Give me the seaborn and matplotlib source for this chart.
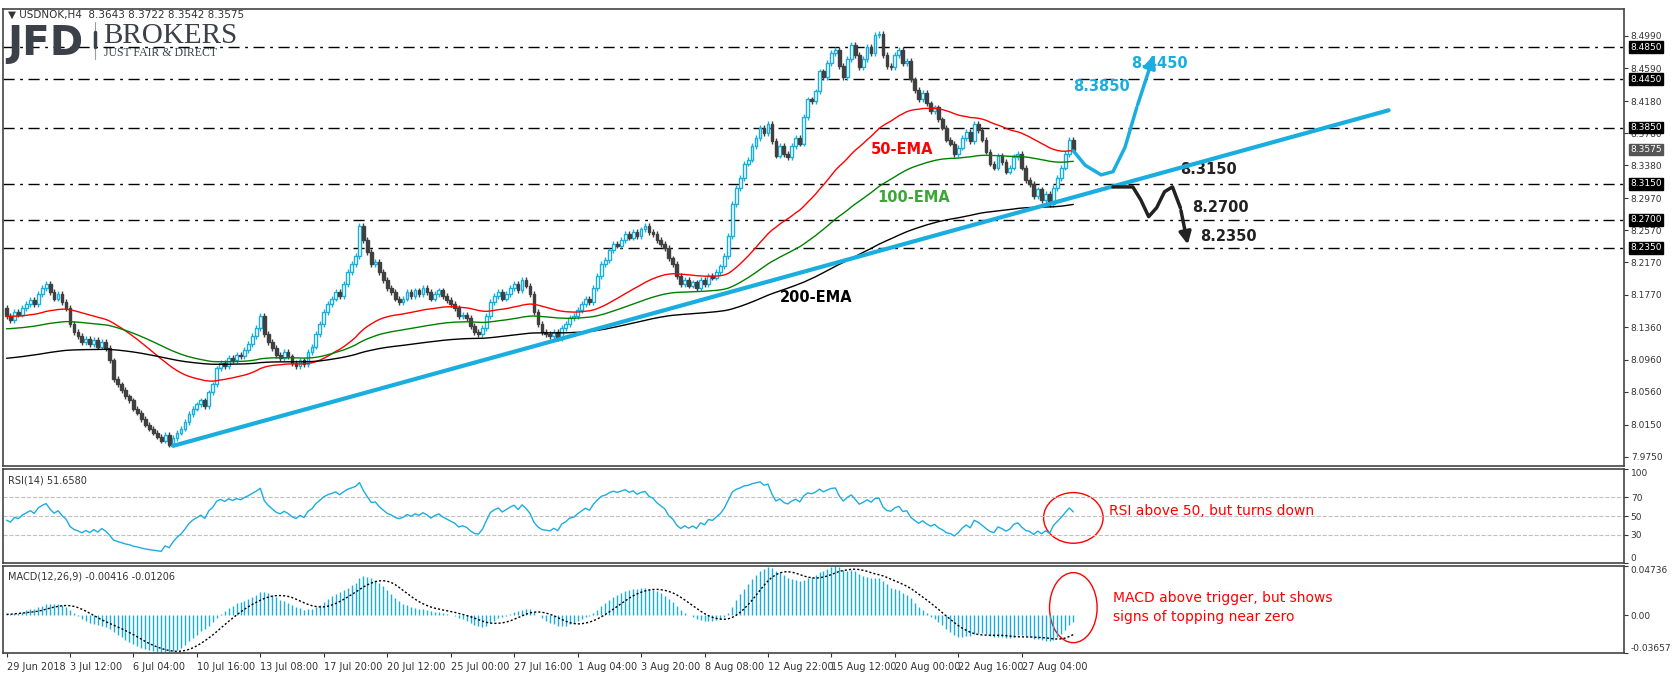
import numpy as np
import pandas as pd
import matplotlib
matplotlib.use("Agg")
import matplotlib.pyplot as plt
import seaborn as sns
from matplotlib.patches import Ellipse

# closes, one row per date label (16 H4 bars)
closes = [
    8.150, 8.145, 8.155, 8.152, 8.160, 8.165, 8.170, 8.165, 8.178, 8.185, 8.190, 8.180, 8.172, 8.178, 8.168, 8.160,
    8.140, 8.130, 8.125, 8.118, 8.122, 8.115, 8.120, 8.112, 8.118, 8.110, 8.095, 8.072, 8.065, 8.058, 8.050, 8.045,
    8.035, 8.030, 8.022, 8.015, 8.010, 8.005, 8.000, 7.995, 8.002, 7.990, 7.998, 8.005, 8.010, 8.018, 8.028, 8.035,
    8.040, 8.045, 8.038, 8.055, 8.065, 8.085, 8.092, 8.088, 8.098, 8.095, 8.102, 8.100, 8.108, 8.115, 8.125, 8.135,
    8.150, 8.128, 8.118, 8.110, 8.102, 8.098, 8.105, 8.100, 8.092, 8.088, 8.095, 8.090, 8.105, 8.112, 8.128, 8.140,
    8.155, 8.165, 8.172, 8.180, 8.175, 8.190, 8.205, 8.215, 8.225, 8.262, 8.245, 8.230, 8.215, 8.218, 8.205, 8.195,
    8.185, 8.180, 8.172, 8.168, 8.172, 8.180, 8.175, 8.182, 8.178, 8.185, 8.180, 8.172, 8.178, 8.182, 8.175, 8.170,
    8.165, 8.160, 8.150, 8.152, 8.148, 8.138, 8.130, 8.128, 8.135, 8.150, 8.168, 8.175, 8.180, 8.172, 8.178, 8.185,
    8.190, 8.182, 8.195, 8.188, 8.178, 8.155, 8.140, 8.130, 8.128, 8.125, 8.130, 8.122, 8.135, 8.140, 8.148, 8.150,
    8.158, 8.165, 8.172, 8.168, 8.185, 8.200, 8.215, 8.220, 8.232, 8.240, 8.238, 8.245, 8.252, 8.248, 8.255, 8.250,
    8.258, 8.262, 8.255, 8.252, 8.245, 8.240, 8.235, 8.222, 8.215, 8.200, 8.190, 8.195, 8.188, 8.192, 8.185, 8.195,
    8.190, 8.200, 8.198, 8.205, 8.212, 8.225, 8.250, 8.290, 8.310, 8.322, 8.340, 8.345, 8.362, 8.372, 8.385, 8.378,
    8.390, 8.368, 8.350, 8.362, 8.352, 8.348, 8.362, 8.372, 8.365, 8.398, 8.420, 8.418, 8.430, 8.455, 8.448, 8.465,
    8.478, 8.482, 8.462, 8.448, 8.470, 8.488, 8.475, 8.460, 8.470, 8.485, 8.478, 8.500, 8.502, 8.475, 8.462, 8.460,
    8.475, 8.482, 8.465, 8.468, 8.445, 8.432, 8.420, 8.428, 8.415, 8.405, 8.410, 8.395, 8.385, 8.370, 8.365, 8.352,
    8.360, 8.372, 8.380, 8.368, 8.390, 8.382, 8.370, 8.355, 8.340, 8.335, 8.350, 8.342, 8.330, 8.335, 8.348, 8.352,
    8.335, 8.320, 8.315, 8.300, 8.308, 8.295, 8.302, 8.290, 8.310, 8.322, 8.335, 8.352, 8.370, 8.3575,
]
first_open = 8.160
ema_seeds = {50: 8.150, 100: 8.134, 200: 8.097}

date_labels = ["29 Jun 2018", "3 Jul 12:00", "6 Jul 04:00", "10 Jul 16:00", "13 Jul 08:00",
               "17 Jul 20:00", "20 Jul 12:00", "25 Jul 00:00", "27 Jul 16:00", "1 Aug 04:00",
               "3 Aug 20:00", "8 Aug 08:00", "12 Aug 22:00", "15 Aug 12:00", "20 Aug 00:00",
               "22 Aug 16:00", "27 Aug 04:00"]
price_ticks = [8.4990, 8.4590, 8.4180, 8.3780, 8.3380, 8.2970, 8.2570, 8.2170,
               8.1770, 8.1360, 8.0960, 8.0560, 8.0150, 7.9750]
levels = [8.4850, 8.4450, 8.3850, 8.3150, 8.2700, 8.2350]
last_price = 8.3575

# trendline and scenario paths (bar index, price)
trend_x = [42, 348.5]
trend_y = [7.9885, 8.4065]
bull_x = [269, 272, 276, 279, 282, 285, 289.5]
bull_y = [8.356, 8.338, 8.326, 8.330, 8.360, 8.410, 8.478]
bear_x = [279, 284, 286, 288, 290, 292, 294, 296, 298]
bear_y = [8.311, 8.311, 8.295, 8.274, 8.285, 8.305, 8.311, 8.285, 8.236]

CYAN = "#1aaee0"
DARK = "#404040"

c = np.array(closes)
o = np.r_[first_open, c[:-1]]
n = len(c)
idx = np.arange(n)
wick = 0.0035
hi = np.maximum(o, c) + wick
lo = np.minimum(o, c) - wick

def ema(values, span, seed):
    a = 2.0 / (span + 1)
    out = np.empty(len(values))
    prev = seed
    for k, v in enumerate(values):
        prev = prev + a * (v - prev)
        out[k] = prev
    return out

# RSI(14), Wilder smoothing
d = np.diff(np.r_[first_open, c])
ag, al = 0.004, 0.004
rsi = []
for x in d:
    ag = (ag * 13 + max(x, 0)) / 14
    al = (al * 13 + max(-x, 0)) / 14
    rsi.append(100 - 100 / (1 + ag / al))
rsi = np.array(rsi)

macd = ema(c, 12, c[0] - 0.01) - ema(c, 26, c[0] - 0.01)
signal = pd.Series(macd).rolling(9, min_periods=1).mean().values

df = pd.DataFrame({"i": idx, "ema50": ema(c, 50, ema_seeds[50]),
                   "ema100": ema(c, 100, ema_seeds[100]),
                   "ema200": ema(c, 200, ema_seeds[200]),
                   "rsi": rsi, "macd": macd, "signal": signal})

sns.set_style("white")
plt.rcParams["font.family"] = ["DejaVu Sans"]
fig = plt.figure(figsize=(16.74, 6.75), dpi=100)
W = 0.968
ax = fig.add_axes([0.002, 0.310, W, 0.677])
ax_rsi = fig.add_axes([0.002, 0.166, W, 0.139], sharex=ax)
ax_macd = fig.add_axes([0.002, 0.032, W, 0.130], sharex=ax)

for a in (ax, ax_rsi, ax_macd):
    for s in a.spines.values():
        s.set_color("#444444")
        s.set_linewidth(1.2)
    a.yaxis.tick_right()
    a.tick_params(axis="y", labelsize=6.5, length=3, pad=2, colors="#333333")
    a.tick_params(axis="x", bottom=False, labelbottom=False)
ax.set_xlim(-0.8, 407.8)

# levels
for lv in levels:
    ax.axhline(lv, color="black", lw=1, dashes=(8, 4, 2, 4), zorder=1)

# candles
up = c >= o
ax.vlines(idx[up], lo[up], hi[up], color=CYAN, lw=1, zorder=3)
ax.vlines(idx[~up], lo[~up], hi[~up], color=DARK, lw=1, zorder=3)
ax.bar(idx[up], np.maximum(c - o, 0.0008)[up], bottom=o[up], width=0.7,
       facecolor="white", edgecolor=CYAN, lw=1, zorder=4)
ax.bar(idx[~up], np.maximum(o - c, 0.0008)[~up], bottom=c[~up], width=0.7,
       facecolor=DARK, edgecolor=DARK, lw=1, zorder=4)

sns.lineplot(data=df, x="i", y="ema50", ax=ax, color="#ff0000", lw=1, zorder=5)
sns.lineplot(data=df, x="i", y="ema100", ax=ax, color="#008000", lw=1, zorder=5)
sns.lineplot(data=df, x="i", y="ema200", ax=ax, color="black", lw=1, zorder=5)
ax.plot(trend_x, trend_y, color=CYAN, lw=3, zorder=6)

ax.set_ylim(7.9637, 8.5329)
ax.set_yticks(price_ticks)
ax.set_yticklabels([f"{t:.4f}" for t in price_ticks])
ax.set_xlabel("")
ax.set_ylabel("")

# scenario paths
ax.plot(bull_x[:-1], bull_y[:-1], color=CYAN, lw=2.5, solid_capstyle="round", zorder=7)
ax.annotate("", xy=(bull_x[-1], bull_y[-1]), xytext=(bull_x[-2], bull_y[-2]),
            arrowprops=dict(arrowstyle="-|>", color=CYAN, lw=2.5, mutation_scale=18), zorder=7)
ax.plot(bear_x[:-1], bear_y[:-1], color="#222222", lw=2.5, zorder=7)
ax.annotate("", xy=(bear_x[-1], bear_y[-1]), xytext=(bear_x[-2], bear_y[-2]),
            arrowprops=dict(arrowstyle="-|>", color="#222222", lw=2.5, mutation_scale=18), zorder=7)

bold = dict(fontsize=10.5, fontweight="bold")
ax.text(269, 8.430, "8.3850", color=CYAN, **bold)
ax.text(283.5, 8.459, "8.4450", color=CYAN, **bold)
ax.text(296, 8.327, "8.3150", color="#222222", **bold)
ax.text(299, 8.280, "8.2700", color="#222222", **bold)
ax.text(301, 8.244, "8.2350", color="#222222", **bold)
ax.text(218, 8.358, "50-EMA", color="#ff0000", va="center", **bold)
ax.text(219.5, 8.298, "100-EMA", color="#3aa835", va="center", **bold)
ax.text(195, 8.173, "200-EMA", color="black", va="center", **bold)

# right price boxes
for lv in levels:
    ax.text(1.004, lv, f"{lv:.4f}", transform=ax.get_yaxis_transform(), fontsize=6.5,
            color="white", va="center", ha="left",
            bbox=dict(boxstyle="square,pad=0.15", fc="black", ec="black"))
ax.text(1.004, last_price, f"{last_price:.4f}", transform=ax.get_yaxis_transform(), fontsize=6.5,
        color="white", va="center", ha="left",
        bbox=dict(boxstyle="square,pad=0.15", fc="#555555", ec="#555555"))

# header + logo
fig.text(0.005, 0.985, "\u25bc USDNOK,H4  8.3643 8.3722 8.3542 8.3575", fontsize=7.5,
         color="#333333", va="top")
fig.text(0.004, 0.918, "JFD", fontsize=29, fontweight="bold", color="#3b4049", va="baseline")
fig.add_artist(plt.Line2D([0.0565, 0.0565], [0.912, 0.968], color="#9a9ea4", lw=0.8,
                          transform=fig.transFigure))
fig.add_artist(plt.Line2D([0.0565, 0.0565], [0.930, 0.952], color="#3b4049", lw=2.5,
                          transform=fig.transFigure))
fig.text(0.0615, 0.937, "BROKERS", fontsize=21, family="Liberation Serif", color="#3b4049",
         va="baseline")
fig.text(0.062, 0.917, "JUST FAIR & DIRECT", fontsize=8.5, family="Liberation Serif",
         color="#3b4049", va="baseline")

# RSI panel
for lv in (70, 50, 30):
    ax_rsi.axhline(lv, color="#c0c0c0", lw=0.8, ls="--")
sns.lineplot(data=df, x="i", y="rsi", ax=ax_rsi, color=CYAN, lw=1)
ax_rsi.set_ylim(0, 100)
ax_rsi.set_yticks([100, 70, 50, 30, 0])
ax_rsi.set_xlabel("")
ax_rsi.set_ylabel("")
rl = ax_rsi.get_yticklabels()
rl[0].set_va("top")
rl[-1].set_va("bottom")
ax_rsi.text(0.003, 0.93, "RSI(14) 51.6580", transform=ax_rsi.transAxes, fontsize=7,
            color="#333333", va="top")
ax_rsi.add_patch(Ellipse((269, 48), 15, 54, fill=False, ec="red", lw=1))
ax_rsi.text(278, 55, "RSI above 50, but turns down", color="red", fontsize=10, va="center")

# MACD panel
ax_macd.vlines(idx, 0, macd, color=CYAN, lw=1)
sns.lineplot(data=df, x="i", y="signal", ax=ax_macd, color="black", lw=1, ls=(0, (1.5, 1.5)))
ax_macd.set_ylim(-0.03657, 0.04736)
ax_macd.set_yticks([0.04736, 0.0, -0.03657])
ax_macd.set_yticklabels(["0.04736", "0.00", "-0.03657"])
ml = ax_macd.get_yticklabels()
ml[0].set_va("top")
ml[-1].set_va("bottom")
ax_macd.set_xlabel("")
ax_macd.set_ylabel("")
ax_macd.text(0.003, 0.93, "MACD(12,26,9) -0.00416 -0.01206",
             transform=ax_macd.transAxes, fontsize=7, color="#333333", va="top")
ax_macd.add_patch(Ellipse((269, 0.0072), 12, 0.067, fill=False, ec="red", lw=1))
ax_macd.text(279, 0.0072, "MACD above trigger, but shows\nsigns of topping near zero",
             color="red", fontsize=10, va="center", linespacing=1.5)

ax_macd.tick_params(axis="x", bottom=True, labelbottom=True, labelsize=7, length=3,
                    colors="#333333")
ax_macd.set_xticks(np.arange(len(date_labels)) * 16)
ax_macd.set_xticklabels(date_labels, ha="left")
for a in (ax, ax_rsi):
    a.tick_params(axis="x", bottom=False, labelbottom=False)

fig.savefig("out.png", dpi=100)
